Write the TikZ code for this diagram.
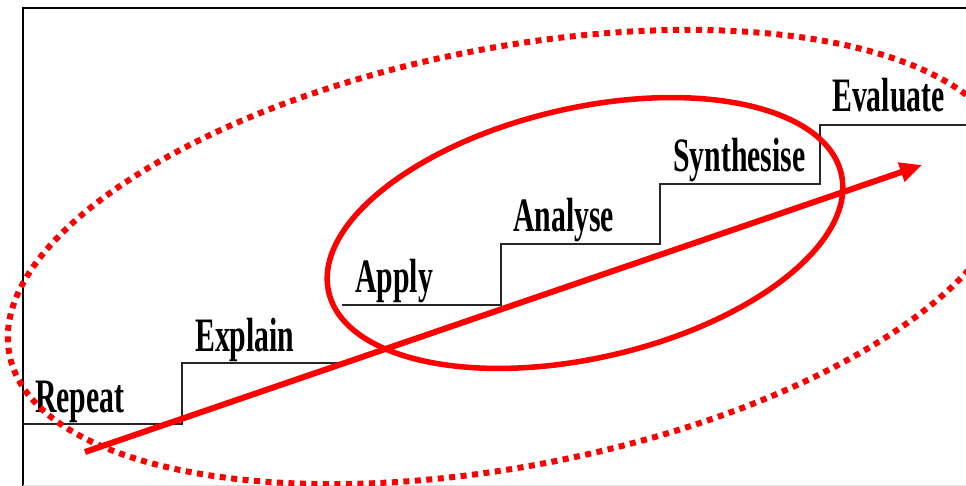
\documentclass[tikz,border=0pt]{standalone}
\usepackage{fontspec}
\newfontfamily\stairfont{Liberation Serif}[FakeStretch=0.62]
\usetikzlibrary{arrows.meta}

\begin{document}
\begin{tikzpicture}[x=1pt, y=-1pt,
    stairline/.style={draw=black!85, line width=1.5pt},
    steplabel/.style={anchor=base west, inner sep=0pt,
                      font=\stairfont\bfseries\fontsize{48}{50}\selectfont},
    ring/.style={draw=red, line width=5.5pt},
    dotring/.style={draw=red, line width=6pt, dash pattern=on 6pt off 5.5pt},
    climb/.style={draw=red, line width=6pt, -{Triangle[length=22pt, width=19pt]}},
  ]
    \clip (0,0) rectangle (966,486);
    \fill[white] (0,0) rectangle (966,486);
    \draw[line width=2pt] (966,8) -- (23,8) -- (23,486);
    \draw[black!12, line width=1pt] (23,485.5) -- (966,485.5);

    % the stairs
    \draw[stairline] (23,424) -- (182,424) -- (182,363) -- (340,363);
    \draw[stairline] (342,305) -- (501,305) -- (501,244) -- (660,244)
      -- (660,184) -- (820,184) -- (820,125) -- (966,125);

    \node[steplabel] (repeat) at (35,412) {Repeat};
    \node[steplabel] (explain) at (195,351) {Explain};
    \node[steplabel] (apply) at (355,292) {Apply};
    \node[steplabel] (analyse) at (513,232) {Analyse};
    \node[steplabel] (synthesise) at (673,172) {Synthesise};
    \node[steplabel] (evaluate) at (832,112) {Evaluate};

    % the two rings
    \coordinate (inner) at (585,233);
    \coordinate (outer) at (510,257);
    \draw[ring, rotate around={13:(inner)}] (inner) ellipse [x radius=263pt, y radius=125pt];
    \draw[dotring, rotate around={11:(outer)}] (outer) ellipse [x radius=510pt, y radius=209pt];

    \coordinate (low) at (85,452);
    \coordinate (high) at (922,165);
    \draw[climb] (low) -- (high);
  \end{tikzpicture}
\end{document}
